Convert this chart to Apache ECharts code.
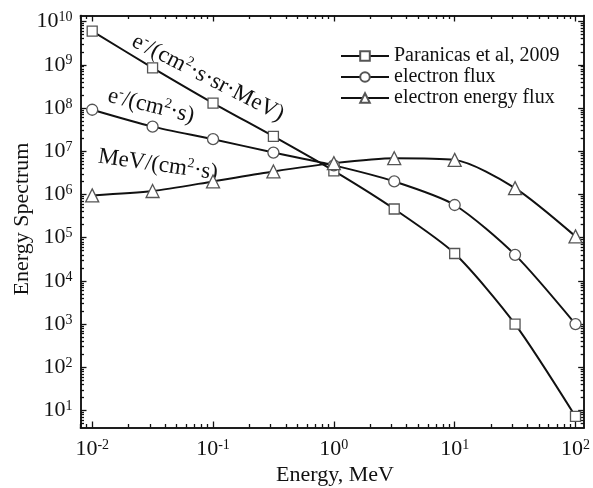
<!DOCTYPE html>
<html><head><meta charset="utf-8">
<script src="https://cdn.jsdelivr.net/npm/echarts@6/dist/echarts.min.js"></script>
<style>html,body{margin:0;padding:0;background:#fff}#c{width:593px;height:488px}</style>
</head><body><div id="c"></div>
<script>
const energyMeV = [0.01, 0.0316, 0.1, 0.316, 1, 3.16, 10, 31.6, 100];
const paranicas = [6.0e9, 8.5e8, 1.3e8, 2.2e7, 3.5e6, 4.6e5, 4.3e4, 1.0e3, 7.3];
const electronFlux = [9.1e7, 3.7e7, 1.9e7, 9.3e6, 4.7e6, 2.0e6, 5.7e5, 4.0e4, 1.0e3];
const energyFlux = [9.5e5, 1.2e6, 2.0e6, 3.4e6, 5.3e6, 6.9e6, 6.3e6, 1.4e6, 1.07e5];
const seriesNames = ['Paranicas et al, 2009', 'electron flux', 'electron energy flux'];
const xMajor = [0.01, 0.1, 1, 10, 100];
const yMajor = [1e1, 1e2, 1e3, 1e4, 1e5, 1e6, 1e7, 1e8, 1e9, 1e10];
const xMinor = [0.008, 0.009];
[0.01, 0.1, 1, 10].forEach(d => { for (let k = 2; k <= 9; k++) xMinor.push(+(d * k).toPrecision(3)); });
const yMinor = [5, 6, 7, 8, 9];
[1e1, 1e2, 1e3, 1e4, 1e5, 1e6, 1e7, 1e8, 1e9].forEach(d => { for (let k = 2; k <= 9; k++) yMinor.push(d * k); });

const XMIN = 0.008, XMAX = 118, YMIN = 4.05, YMAX = 1.38e10;
const serif = 'Liberation Serif';
const black = '#111';

function pow10Label(v) {
  const e = Math.round(Math.log10(v));
  return '10{sup|' + e + '}';
}
const labelRich = {
  sup: { fontSize: 14, fontFamily: serif, color: black, verticalAlign: 'top', lineHeight: 12, padding: [0, 0, 9, 0] }
};

function xAxisDef(pos, ticks, len, showLabel) {
  return {
    type: 'log', logBase: 10, position: pos, min: XMIN, max: XMAX,
    axisLine: { show: true, onZero: false, lineStyle: { color: black, width: 1.5 } },
    axisTick: { show: true, inside: true, length: len, customValues: ticks, lineStyle: { color: black, width: 1.3 } },
    axisLabel: showLabel ? {
      show: true, customValues: xMajor, formatter: pow10Label, margin: 11,
      fontFamily: serif, fontSize: 22, color: black, rich: labelRich
    } : { show: false },
    splitLine: { show: false }, minorTick: { show: false }
  };
}
function yAxisDef(pos, ticks, len, showLabel) {
  return {
    type: 'log', logBase: 10, position: pos, min: YMIN, max: YMAX,
    axisLine: { show: true, onZero: false, lineStyle: { color: black, width: 1.5 } },
    axisTick: { show: true, inside: true, length: len, customValues: ticks, lineStyle: { color: black, width: 1.3 } },
    axisLabel: showLabel ? {
      show: true, customValues: yMajor, formatter: pow10Label, margin: 8,
      fontFamily: serif, fontSize: 22, color: black, rich: labelRich
    } : { show: false },
    splitLine: { show: false }, minorTick: { show: false }
  };
}

function mk(name, ys, symbol, size) {
  return {
    name: name, type: 'line', xAxisIndex: 0, yAxisIndex: 0,
    data: energyMeV.map((x, i) => [x, ys[i]]),
    smooth: 0.25, symbol: symbol, symbolSize: size, showSymbol: true,
    lineStyle: { color: black, width: 2 },
    itemStyle: { color: '#fff', borderColor: '#555', borderWidth: 1.3 },
    z: 3
  };
}

const chart = echarts.init(document.getElementById('c'), null, { renderer: 'canvas' });
const supStyle = { fontSize: 14, fontFamily: serif, fill: black, verticalAlign: 'top', lineHeight: 12 };
function annot(x, y, rot, text) {
  return {
    type: 'text', x: x, y: y, rotation: rot,
    style: { text: text, fontFamily: serif, fontSize: 23, fill: black, align: 'center', verticalAlign: 'middle',
      rich: { n: { fontSize: 23, fontFamily: serif, fill: black, lineHeight: 26 }, s: supStyle } }
  };
}
chart.setOption({
  animation: false,
  backgroundColor: '#fff',
  grid: { left: 80.5, right: 5.5, top: 15.5, bottom: 60.5, containLabel: false },
  xAxis: [xAxisDef('bottom', xMajor, 6, true), xAxisDef('bottom', xMinor, 3.5, false),
          xAxisDef('top', xMajor, 6, false), xAxisDef('top', xMinor, 3.5, false)],
  yAxis: [yAxisDef('left', yMajor, 6, true), yAxisDef('left', yMinor, 3.5, false),
          yAxisDef('right', yMajor, 6, false), yAxisDef('right', yMinor, 3.5, false)],
  legend: {
    orient: 'vertical', left: 335, top: 41, itemWidth: 48, itemHeight: 12, itemGap: 1,
    textStyle: { fontFamily: serif, fontSize: 20, color: black },
    data: seriesNames
  },
  series: [
    mk(seriesNames[0], paranicas, 'rect', 10),
    mk(seriesNames[1], electronFlux, 'circle', 11),
    mk(seriesNames[2], energyFlux, 'triangle', 13)
  ],
  graphic: [
    annot(208, 78, -0.47, '{n|e}{s|-}{n|/(cm}{s|2}{n|·s·sr·MeV)}'),
    annot(151, 106, -0.24, '{n|e}{s|-}{n|/(cm}{s|2}{n|·s)}'),
    annot(158, 165, -0.14, '{n|MeV/(cm}{s|2}{n|·s)}'),
    { type: 'text', x: 22, y: 219, rotation: Math.PI / 2,
      style: { text: 'Energy Spectrum', fontFamily: serif, fontSize: 22, fill: black, align: 'center', verticalAlign: 'middle' } },
    { type: 'text', x: 335, y: 475,
      style: { text: 'Energy, MeV', fontFamily: serif, fontSize: 22, fill: black, align: 'center', verticalAlign: 'middle' } }
  ]
});
</script></body></html>
